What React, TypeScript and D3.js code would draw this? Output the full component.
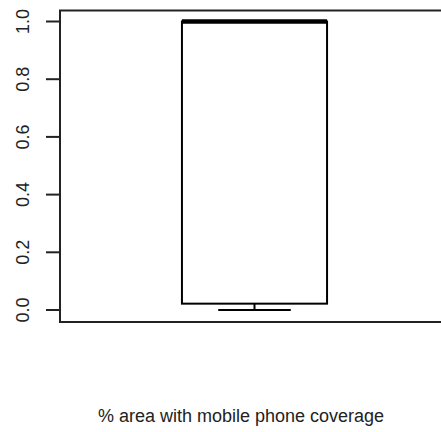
import React from "react";
import * as d3 from "d3";

const categories = ["% area with mobile phone coverage"];
const minValues = [0.0];
const q1Values = [0.022];
const medianValues = [1.0];
const q3Values = [1.0];
const maxValues = [1.0];
const yTicks = [0, 0.2, 0.4, 0.6, 0.8, 1.0];
const yTickLabels = ["0.0", "0.2", "0.4", "0.6", "0.8", "1.0"];

const W = 441;
const H = 432;
const frame = { left: 60, right: 449, top: 10.5, bottom: 322 };
const boxWex = 0.373;

export default function App() {
  const x = d3.scaleLinear().domain([0.5, 1.5]).range([frame.left, frame.right]);
  const y = d3.scaleLinear().domain([0, 1]).range([310, 21.5]);
  const font = "'Liberation Sans', Arial, Helvetica, sans-serif";

  return (
    <svg
      width={W}
      height={H}
      style={{ position: "absolute", left: 0, top: 0, background: "#fff" }}
    >
      <rect x={0} y={0} width={W} height={H} fill="#fff" />
      {/* frame */}
      <rect
        x={frame.left}
        y={frame.top}
        width={frame.right - frame.left}
        height={frame.bottom - frame.top}
        fill="none"
        stroke="#222"
        strokeWidth={2}
      />
      {/* y axis ticks */}
      {yTicks.map((t, i) => (
        <g key={t}>
          <line x1={46} x2={frame.left} y1={y(t)} y2={y(t)} stroke="#222" strokeWidth={2} />
          <text
            transform={`translate(29,${y(t)}) rotate(-90)`}
            textAnchor="middle"
            fontFamily={font}
            fontSize={18}
            fill="#222"
          >
            {yTickLabels[i]}
          </text>
        </g>
      ))}
      {/* boxes */}
      {categories.map((c, i) => {
        const cx = x(i + 1);
        const hw = x(i + 1 + boxWex / 2) - cx;
        const capHw = hw / 2;
        return (
          <g key={c}>
            <line x1={cx} x2={cx} y1={y(q1Values[i])} y2={y(minValues[i])} stroke="#000" strokeWidth={2} />
            <line x1={cx - capHw} x2={cx + capHw} y1={y(minValues[i])} y2={y(minValues[i])} stroke="#000" strokeWidth={2} />
            <line x1={cx} x2={cx} y1={y(q3Values[i])} y2={y(maxValues[i])} stroke="#000" strokeWidth={2} />
            <line x1={cx - capHw} x2={cx + capHw} y1={y(maxValues[i])} y2={y(maxValues[i])} stroke="#000" strokeWidth={2} />
            <rect
              x={cx - hw}
              y={y(q3Values[i])}
              width={2 * hw}
              height={y(q1Values[i]) - y(q3Values[i])}
              fill="none"
              stroke="#000"
              strokeWidth={2}
            />
            <line
              x1={cx - hw}
              x2={cx + hw}
              y1={y(medianValues[i])}
              y2={y(medianValues[i])}
              stroke="#000"
              strokeWidth={4.5}
            />
          </g>
        );
      })}
      {/* x label */}
      <text
        x={241}
        y={422}
        textAnchor="middle"
        fontFamily={font}
        fontSize={18}
        fill="#222"
      >
        {categories[0]}
      </text>
    </svg>
  );
}
